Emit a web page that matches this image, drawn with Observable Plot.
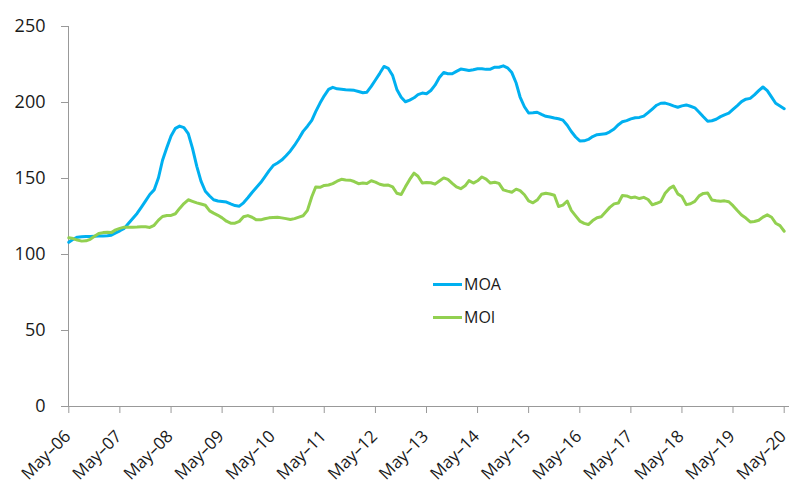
<!DOCTYPE html>
<html>
<head>
<meta charset="utf-8">
<script src="https://cdn.jsdelivr.net/npm/d3@7"></script>
<script src="https://cdn.jsdelivr.net/npm/@observablehq/plot@0.6"></script>
<style>
  html, body { margin: 0; padding: 0; background: #fff; }
  #chart { position: relative; width: 791px; height: 486px; font-family: "Open Sans", sans-serif; }
  .legend-item { position: absolute; display: flex; align-items: center; height: 20px; font-size: 16px; color: #1a1a1a; line-height: 20px; }
  .legend-item .swatch { display: inline-block; width: 29px; height: 3px; margin-right: 2px; }
</style>
</head>
<body>
<div id="chart"></div>
<script>
// ---- data ----
const seriesNames = ["MOA", "MOI"];
const seriesColors = ["#00B0F0", "#92D050"];
const startYear = 2006;   // first observation: May 2006, monthly
const startMonthIndex = 4; // May (0-based)
const xTickYears = [2006, 2007, 2008, 2009, 2010, 2011, 2012, 2013, 2014, 2015, 2016, 2017, 2018, 2019, 2020];
const yTicks = [0, 50, 100, 150, 200, 250];

const moaValues = [
  108, 110, 111.4, 111.6, 111.8, 111.9, 112, 112.1, 112.2, 112.4, 112.7, 114.2,
  115.6, 117.2, 120.4, 123.7, 127, 131, 135.3, 139.5, 142.5, 150.5, 162, 170.4,
  178, 183, 184.5, 183.5, 179.5, 170, 158, 148.3, 141.6, 138.5, 136, 135.2,
  134.9, 134.5, 133.3, 132.2, 131.8, 134, 137.3, 140.8, 144, 147.3, 150.9, 155,
  158.5, 160.2, 162.1, 165, 168.1, 171.9, 176.3, 181, 184.4, 188.3, 194, 199.6,
  204.4, 208.6, 210, 209, 208.7, 208.4, 208.2, 208, 207.2, 206.4, 206.8, 210.6,
  214.8, 219.2, 223.7, 222.4, 217.7, 208.6, 203.5, 200.5, 201.6, 203.1, 205.2, 206.2,
  205.8, 207.9, 211.4, 216.5, 219.7, 218.9, 218.9, 220.5, 222, 221.6, 221.1, 221.5,
  222.2, 222.2, 221.8, 221.9, 223.2, 223.2, 224.1, 222.8, 219.7, 212.8, 203.6, 197.2,
  193.1, 193.3, 193.6, 192.2, 190.9, 190.4, 189.8, 189.3, 188.4, 185, 180.9, 177.3,
  174.7, 174.8, 175.7, 177.6, 178.8, 179.1, 179.4, 180.7, 182.6, 185.4, 187.3, 188.1,
  189.2, 190, 190.2, 191, 193.3, 195.7, 198.2, 199.5, 199.6, 198.8, 197.8, 196.9,
  197.8, 198.4, 197.5, 196.5, 193.6, 190.6, 187.7, 188, 189, 190.7, 191.9, 193,
  195.5, 198, 200.6, 202.2, 202.7, 205, 207.8, 210.2, 207.8, 203.5, 199.5, 197.7, 195.9
];

const moiValues = [
  111, 110.5, 109.5, 108.8, 109, 110, 112, 113.8, 114.4, 114.6, 114.4, 116.2,
  117.2, 118, 118, 118, 118.1, 118.3, 118.2, 117.8, 119.2, 122.6, 125, 125.7,
  125.7, 126.8, 130.3, 133.5, 136, 135, 134, 133.2, 132.4, 128.7, 127.2, 125.8,
  124.1, 121.9, 120.6, 120.6, 121.8, 124.8, 125.6, 124.5, 122.8, 122.8, 123.5, 124.1,
  124.3, 124.5, 124.1, 123.6, 123, 123.6, 124.6, 125.5, 129, 138, 144.4, 144.2,
  145.4, 145.7, 146.6, 148.2, 149.5, 149, 148.9, 148, 146.6, 147, 146.7, 148.5,
  147.6, 146.2, 145.6, 145.7, 144.5, 140.3, 139.5, 144.5, 149.4, 153.5, 151.5, 147,
  147.4, 147.2, 146.3, 148.4, 150.4, 149.4, 146.8, 144.5, 143.3, 145.2, 148.6, 147,
  148.5, 151, 149.6, 147, 147.5, 146.8, 142.5, 141.7, 141, 143, 142, 139.3,
  135.3, 134, 135.8, 139.6, 140.3, 139.8, 139, 131.6, 132.5, 135.2, 129, 125.4,
  122, 120.5, 119.7, 122.3, 124.2, 124.8, 128, 131, 133.3, 133.9, 138.8, 138.5,
  137.4, 137.8, 136.8, 137.6, 136.2, 132.7, 133.7, 134.8, 140.3, 143.5, 145, 139.9,
  138.2, 132.8, 133.4, 134.9, 138.6, 140.2, 140.5, 135.8, 135.3, 135, 135.3, 134.7,
  132.1, 128.9, 126, 124, 121.4, 121.7, 122.5, 124.6, 126.1, 124.5, 120.6, 119, 115.3
];

// ---- build table ----
const start = new Date(Date.UTC(startYear, startMonthIndex, 1));
const monthDate = i => d3.utcMonth.offset(start, i);
const data = [];
[moaValues, moiValues].forEach((vals, s) => {
  vals.forEach((v, i) => data.push({ series: seriesNames[s], date: monthDate(i), value: v }));
});
const xTicks = xTickYears.map(y => new Date(Date.UTC(y, startMonthIndex, 1)));
const end = xTicks[xTicks.length - 1];

const axisColor = "#999999";
const textColor = "#1a1a1a";

const plot = Plot.plot({
  width: 791,
  height: 486,
  marginLeft: 68,
  marginRight: 2,
  marginTop: 26,
  marginBottom: 80,
  style: { fontFamily: "'Open Sans', sans-serif", fontSize: "18px", color: textColor, background: "#fff", overflow: "visible" },
  x: { type: "utc", domain: [start, end], range: [68.3, 783.7] },
  y: { domain: [0, 250], range: [406, 26] },
  color: { domain: seriesNames, range: seriesColors },
  marks: [
    Plot.frame({ anchor: "left", stroke: axisColor, strokeOpacity: 1 }),
    Plot.ruleY([0], { stroke: axisColor }),
    Plot.axisY({ ticks: yTicks, tickSize: 7, tickPadding: 16, stroke: axisColor, fill: textColor, label: null, fontSize: 18, strokeOpacity: 1 }),
    Plot.axisX({ ticks: xTicks, tickSize: 7, text: null, stroke: axisColor, strokeOpacity: 1, label: null }),
    Plot.axisX({ ticks: xTicks, tickSize: 0, tickPadding: 27, dx: -1, tickRotate: -45, tickFormat: d3.utcFormat("%b\u2013%y"), fill: textColor, label: null, fontSize: 17 }),
    Plot.lineY(data, { x: "date", y: "value", z: "series", stroke: "series", strokeWidth: 3, curve: "linear" })
  ]
});

const chart = document.getElementById("chart");
chart.appendChild(plot);

// legend (inside plot area)
const legendTops = [274, 307];
seriesNames.forEach((name, i) => {
  const item = document.createElement("div");
  item.className = "legend-item";
  item.style.left = "433px";
  item.style.top = legendTops[i] + "px";
  const sw = document.createElement("span");
  sw.className = "swatch";
  sw.style.background = seriesColors[i];
  const label = document.createElement("span");
  label.textContent = name;
  item.appendChild(sw);
  item.appendChild(label);
  chart.appendChild(item);
});
</script>
</body>
</html>
